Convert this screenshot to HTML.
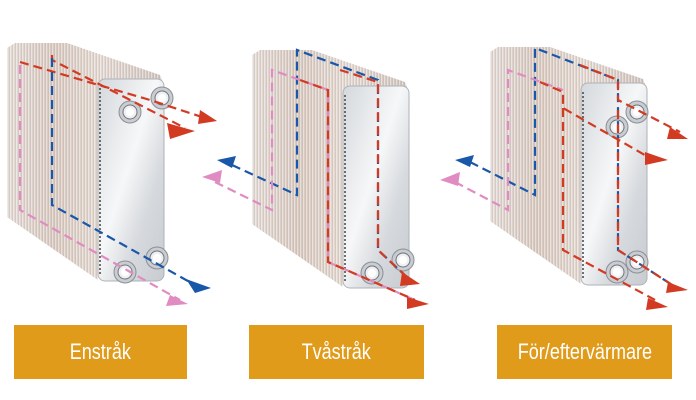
<!DOCTYPE html>
<html><head><meta charset="utf-8"><style>
html,body{margin:0;padding:0;background:#fff;width:696px;height:400px;overflow:hidden}
.b{position:absolute;top:325px;height:54px;background:#E09B1B;color:#fff;font-family:"Liberation Sans",sans-serif;font-size:22px;line-height:54px;text-align:center}
.b span{display:inline-block;transform:scaleX(0.82)}
</style></head><body>
<svg width="696" height="400" style="position:absolute;left:0;top:0">
<defs>
<linearGradient id="side" x1="0" y1="0" x2="1" y2="0">
<stop offset="0" stop-color="#e2dcd9"/><stop offset=".3" stop-color="#d6c9c1"/><stop offset=".6" stop-color="#e3dbd6"/><stop offset="1" stop-color="#cdc3be"/></linearGradient>
<linearGradient id="front" x1="0" y1="0" x2="1" y2="1">
<stop offset="0" stop-color="#d4d8dc"/><stop offset=".45" stop-color="#f6f7f8"/><stop offset=".7" stop-color="#d6d9dd"/><stop offset="1" stop-color="#c8ccd0"/></linearGradient>
<pattern id="ln" width="3" height="6" patternUnits="userSpaceOnUse"><rect width="1" height="6" fill="#fff" opacity=".4"/><rect x="2" width="1" height="6" fill="#c4a898" opacity=".35"/></pattern>
<g id="hx">
<polygon points="0,5 8,0 60,0 153,32 156,40 91,40 91,237 0,174" fill="url(#side)"/>
<polygon points="0,5 8,0 60,0 153,32 156,40 91,40 91,237 0,174" fill="url(#ln)"/>
<rect x="91" y="36" width="66" height="202" rx="7" fill="url(#front)" stroke="#aeb3b8"/>
<line x1="93" y1="45" x2="93" y2="232" stroke="#444" stroke-width="1.5" stroke-dasharray="2,2"/>
</g>
<g id="port"><circle r="11" fill="#c9ccd0" stroke="#8b9096"/><circle r="7" fill="#eef0f2" stroke="#6f757c"/><circle r="4" fill="#fff"/></g>
</defs>
<use href="#hx" x="7" y="43"/>
<use href="#port" x="162" y="98"/><use href="#port" x="130" y="112"/>
<use href="#port" x="157" y="258"/><use href="#port" x="125" y="272"/>
<use href="#hx" x="252" y="50"/>
<use href="#port" x="403" y="260"/><use href="#port" x="372" y="273"/>
<use href="#hx" x="490" y="47"/>
<use href="#port" x="637" y="112"/><use href="#port" x="617" y="127"/>
<use href="#port" x="637" y="262"/><use href="#port" x="617" y="272"/>
<g fill="none" stroke-width="2.2" stroke-dasharray="9,5">
<path d="M20,62 L150,100 L205,118" stroke="#d23a22"/>
<path d="M52,55 L52,60 L185,128" stroke="#d23a22"/>
<path d="M20,65 L20,210 L180,300" stroke="#e08cc2"/>
<path d="M52,58 L52,205 L195,285" stroke="#1957a8"/>
<path d="M232,165 L297,195 L297,50 L378,80 L378,250 L410,280" stroke="#1957a8"/>
<path d="M340,70 L378,82 L378,250 L410,280" stroke="#d23a22"/>
<path d="M215,182 L272,210 L272,70 L328,90 L328,262 L415,300" stroke="#e08cc2"/>
<path d="M300,80 L328,90 L328,262 L415,300" stroke="#d23a22"/>
<path d="M470,162 L535,195 L535,48 L618,80 L618,250 L680,290" stroke="#1957a8"/>
<path d="M580,65 L618,80 L618,100 L680,132" stroke="#d23a22"/>
<path d="M618,110 L618,250 L680,290" stroke="#d23a22"/>
<path d="M455,182 L508,210 L508,70 L563,90" stroke="#e08cc2"/>
<path d="M540,82 L563,92 L563,108 L650,158" stroke="#d23a22"/>
<path d="M563,108 L563,250 L655,300" stroke="#d23a22"/>
</g>
<g>
<polygon points="200,110 217,121 198,124" fill="#d23a22"/>
<polygon points="167,123 195,131 170,139" fill="#d23a22"/>
<polygon points="186,279 211,288 195,293" fill="#1957a8"/>
<polygon points="170,295 188,304 166,306" fill="#e08cc2"/>
<polygon points="217,160 236,156 232,168" fill="#1957a8"/>
<polygon points="202,177 222,170 220,183" fill="#e08cc2"/>
<polygon points="402,272 420,284 400,286" fill="#d23a22"/>
<polygon points="407,297 429,304 407,309" fill="#d23a22"/>
<polygon points="455,160 474,155 470,167" fill="#1957a8"/>
<polygon points="440,180 460,172 458,186" fill="#e08cc2"/>
<polygon points="670,127 688,139 667,139" fill="#d23a22"/>
<polygon points="645,152 668,160 645,165" fill="#d23a22"/>
<polygon points="668,282 688,290 666,293" fill="#d23a22"/>
<polygon points="648,298 668,307 646,310" fill="#d23a22"/>
</g>
</svg>
<div class="b" style="left:14px;width:173px"><span>Enstråk</span></div>
<div class="b" style="left:249px;width:175px"><span>Tvåstråk</span></div>
<div class="b" style="left:497px;width:175px"><span>För/eftervärmare</span></div>
</body></html>
